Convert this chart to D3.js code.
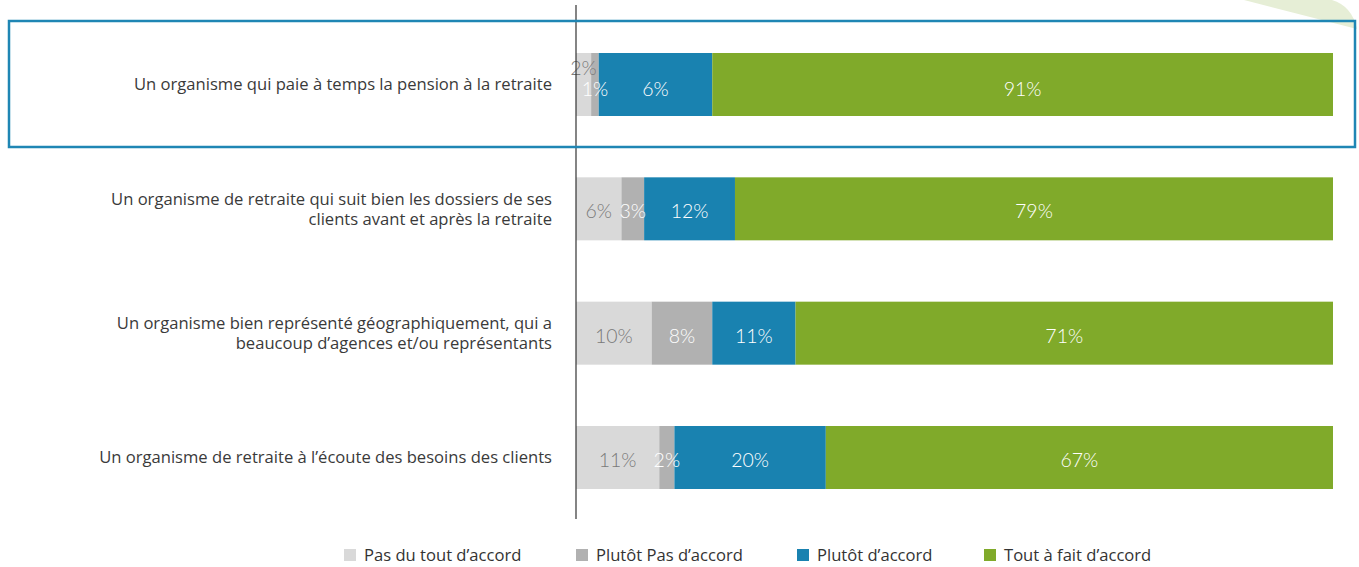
<!DOCTYPE html>
<html>
<head>
<meta charset="utf-8">
<script src="https://cdn.jsdelivr.net/npm/d3@7"></script>
<style>
  body { margin: 0; background: #fff; }
  svg { display: block; }
</style>
</head>
<body>
<script>
const categories = [
  "Un organisme qui paie à temps la pension à la retraite",
  "Un organisme de retraite qui suit bien les dossiers de ses|clients avant et après la retraite",
  "Un organisme bien représenté géographiquement, qui a|beaucoup d’agences et/ou représentants",
  "Un organisme de retraite à l’écoute des besoins des clients"
];
const seriesNames = ["Pas du tout d’accord", "Plutôt Pas d’accord", "Plutôt d’accord", "Tout à fait d’accord"];
// segment widths as drawn in the picture
const pasDuTout = [2, 6, 10, 11];
const plutotPas = [1, 3, 8, 2];
const plutot = [15, 12, 11, 20];
const toutAFait = [82, 79, 71, 67];
// printed labels
const pasDuToutLbl = ["2%", "6%", "10%", "11%"];
const plutotPasLbl = ["1%", "3%", "8%", "2%"];
const plutotLbl = ["6%", "12%", "11%", "20%"];
const toutAFaitLbl = ["91%", "79%", "71%", "67%"];

const colors = ["#d9d9d9", "#b1b1b1", "#1982b0", "#80aa2a"];
const textColors = ["#7a7a7a", "#ffffff", "#ffffff", "#ffffff"];

const W = 1359, H = 567;
const svg = d3.select("body").append("svg").attr("width", W).attr("height", H);

const x = d3.scaleLinear().domain([0, 100]).range([576, 1333]);
const y = d3.scalePoint().domain(categories).range([84.5, 457.5]);
const barH = 63;
const labelFont = "'Open Sans', sans-serif";
const labelSize = 16.6;

// decorative swoosh top-right
svg.append("path")
  .attr("d", "M1244,0 L1332,0 Q1352,6 1357,29 Z")
  .attr("fill", "#e6eed6");

const rows = categories.map((c, i) => {
  const vals = [pasDuTout[i], plutotPas[i], plutot[i], toutAFait[i]];
  const lbls = [pasDuToutLbl[i], plutotPasLbl[i], plutotLbl[i], toutAFaitLbl[i]];
  let acc = 0;
  return vals.map((v, k) => {
    const seg = { cat: c, k, x0: acc, x1: acc + v, label: lbls[k], small: v < 3 && vals[k + 1] < 3 };
    acc += v;
    return seg;
  });
});

const g = svg.append("g");
rows.forEach(segs => {
  g.selectAll(null).data(segs).enter().append("rect")
    .attr("x", d => x(d.x0))
    .attr("y", d => y(d.cat) - barH / 2)
    .attr("width", d => x(d.x1) - x(d.x0))
    .attr("height", barH)
    .attr("fill", d => colors[d.k]);
});
rows.forEach((segs, i) => {
  g.selectAll(null).data(segs).enter().append("text")
    .attr("x", d => (x(d.x0) + x(d.x1)) / 2)
    .attr("y", d => y(d.cat) + (i === 0 ? 4.5 : 2.5) + (d.small ? -21 : 0))
    .attr("dy", "0.36em")
    .attr("text-anchor", "middle")
    .attr("font-family", "Lato, sans-serif")
    .attr("font-weight", 300)
    .attr("font-size", 19.5)
    .attr("fill", d => textColors[d.k])
    .text(d => d.label);
});

// category labels
categories.forEach(c => {
  const lines = c.split("|");
  const t = svg.append("text")
    .attr("text-anchor", "end")
    .attr("font-family", labelFont)
    .attr("font-size", labelSize)
    .attr("fill", "#3a3a3a");
  lines.forEach((ln, j) => {
    t.append("tspan")
      .attr("x", 552)
      .attr("y", y(c) + (j - (lines.length - 1) / 2) * 20)
      .attr("dy", "0.35em")
      .text(ln);
  });
});

// vertical axis line
svg.append("line")
  .attr("x1", x(0)).attr("x2", x(0))
  .attr("y1", 5).attr("y2", 519)
  .attr("stroke", "#333").attr("stroke-width", 1.2);

// highlight box around first row
svg.append("rect")
  .attr("x", 9).attr("y", y(categories[0]) - 63.5)
  .attr("width", 1346).attr("height", 126)
  .attr("fill", "none")
  .attr("stroke", "#1f86b4")
  .attr("stroke-width", 2.5);

// legend
const legX = [344, 576, 797, 984];
const leg = svg.append("g").selectAll("g").data(seriesNames).enter().append("g")
  .attr("transform", (d, i) => `translate(${legX[i]},555)`);
leg.append("rect").attr("x", 0).attr("y", -6).attr("width", 12).attr("height", 12)
  .attr("fill", (d, i) => colors[i]);
leg.append("text").attr("x", 20).attr("dy", "0.35em")
  .attr("font-family", labelFont).attr("font-size", labelSize)
  .attr("fill", "#333").text(d => d);
</script>
</body>
</html>
